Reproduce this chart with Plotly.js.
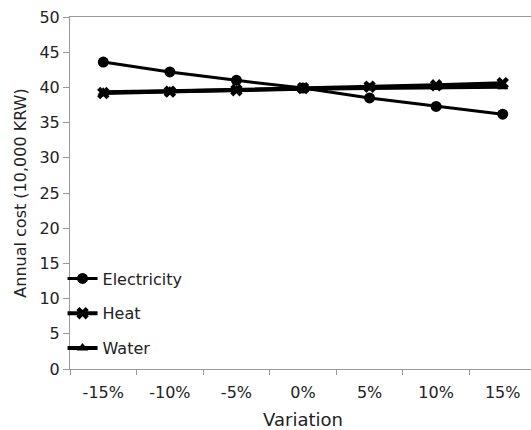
<!DOCTYPE html>
<html><head><meta charset="utf-8">
<script src="https://cdn.plot.ly/plotly-3.0.1.min.js"></script>
<style>html,body{margin:0;padding:0;overflow:hidden;background:#fff}</style>
</head><body>
<div id="chart" style="width:536px;height:430px"></div>
<script>
const categories = ["-15%","-10%","-5%","0%","5%","10%","15%"];
const electricity = [43.6, 42.2, 41.0, 39.9, 38.5, 37.3, 36.2];
const heat = [39.2, 39.4, 39.6, 39.9, 40.1, 40.3, 40.6];
const water = [39.3, 39.5, 39.6, 39.8, 39.9, 40.0, 40.1];

const font = "'DejaVu Sans', sans-serif";
const traces = [
  {name:"Electricity", x:categories, y:electricity, type:"scatter", mode:"lines+markers",
   line:{color:"#000", width:3}, marker:{symbol:"circle", size:11, color:"#000"}, legendgroup:"a"},
  {name:"Heat", x:categories, y:heat, type:"scatter", mode:"lines+markers",
   line:{color:"#000", width:4}, marker:{symbol:"x", size:11, color:"#000"}, legendgroup:"b"},
  {name:"Water", x:categories, y:water, type:"scatter", mode:"lines+markers",
   line:{color:"#000", width:4}, marker:{symbol:"triangle-up", size:10, color:"#000"}, legendgroup:"c"}
];
const layout = {
  width:536, height:430,
  margin:{l:70, r:0, t:17, b:61},
  paper_bgcolor:"#fff", plot_bgcolor:"#fff",
  font:{family:font, size:16, color:"#222"},
  showlegend:true,
  legend:{x:-0.016, y:0.01, xanchor:"left", yanchor:"bottom", bgcolor:"rgba(0,0,0,0)",
          font:{family:font, size:16, color:"#222"}, tracegroupgap:11, itemwidth:30},
  xaxis:{type:"category", range:[-0.5,6.5], showgrid:false, zeroline:false,
         showline:true, linecolor:"#999", linewidth:1, mirror:true,
         ticks:"outside", ticklen:5, tickcolor:"#999", tickson:"boundaries",
         ticklabelstandoff:9,
         tickfont:{family:font, size:16, color:"#222"},
         title:{text:"Variation", font:{family:font, size:18, color:"#222"}, standoff:13}},
  yaxis:{range:[0,50], dtick:5, showgrid:false, zeroline:false,
         showline:true, linecolor:"#999", linewidth:1,
         ticks:"outside", ticklen:6, tickcolor:"#999",
         tickfont:{family:font, size:16, color:"#222"},
         title:{text:"Annual cost (10,000 KRW)", font:{family:font, size:16, color:"#222"}, standoff:8}}
};
Plotly.newPlot("chart", traces, layout, {displayModeBar:false, staticPlot:true});
</script>
</body></html>
